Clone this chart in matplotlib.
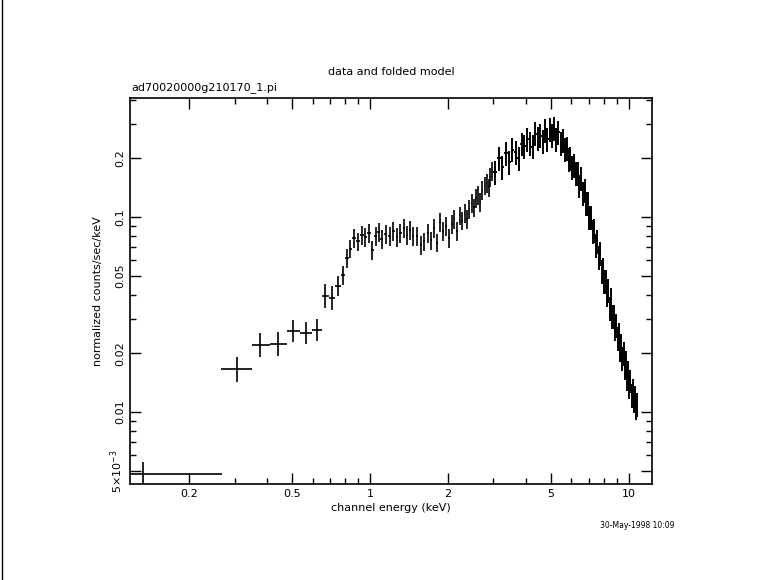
import matplotlib
matplotlib.use("Agg")
import matplotlib.pyplot as plt
import numpy as np
from matplotlib.ticker import FixedLocator, NullFormatter, LogLocator

# low-energy binned points
e_low = [0.133, 0.307, 0.376, 0.441, 0.505, 0.566, 0.624, 0.670, 0.713, 0.752, 0.787, 0.815, 0.837]
e_low_lo = [0.118, 0.266, 0.350, 0.410, 0.476, 0.536, 0.595, 0.652, 0.692, 0.732, 0.770, 0.800, 0.826]
e_low_hi = [0.268, 0.350, 0.410, 0.476, 0.536, 0.595, 0.652, 0.692, 0.732, 0.770, 0.800, 0.826, 0.850]
y_low = [0.00481, 0.0166, 0.0221, 0.0223, 0.0260, 0.0254, 0.0263, 0.0394, 0.0385, 0.0443, 0.0504, 0.0616, 0.0685]
y_low_rel = [0.16, 0.16, 0.15, 0.15, 0.14, 0.14, 0.14, 0.15, 0.15, 0.13, 0.12, 0.12, 0.11]

e_mid = [0.87, 0.90, 0.93, 0.96, 0.99, 1.02, 1.05, 1.08, 1.11, 1.15, 1.19, 1.23, 1.27, 1.31, 1.35, 1.39, 1.43, 1.47,
         1.52, 1.57, 1.62, 1.67, 1.72, 1.77, 1.82, 1.87, 1.92, 1.97, 2.02,
         2.07, 2.12, 2.17, 2.22, 2.27, 2.32, 2.37, 2.42, 2.47, 2.52, 2.57, 2.62, 2.67, 2.72, 2.77, 2.82, 2.87, 2.92, 2.97]
y_mid = [0.078, 0.075, 0.081, 0.079, 0.083, 0.068, 0.080, 0.084, 0.077, 0.082, 0.080, 0.085, 0.079, 0.083, 0.088, 0.081, 0.086, 0.080,
         0.080, 0.072, 0.075, 0.083, 0.076, 0.088, 0.074, 0.094, 0.085, 0.090, 0.078,
         0.092, 0.098, 0.085, 0.102, 0.096, 0.105, 0.098, 0.110, 0.118, 0.112, 0.125, 0.130, 0.120, 0.138, 0.145, 0.150, 0.142, 0.160, 0.172]

e_high = [3.05, 3.15, 3.25, 3.35, 3.45, 3.55, 3.65, 3.75, 3.85, 3.95,
          4.05, 4.15, 4.25, 4.35, 4.45, 4.55, 4.65, 4.75, 4.85, 4.95,
          5.05, 5.15, 5.25, 5.35, 5.45, 5.55, 5.65, 5.75, 5.85, 5.95,
          6.05, 6.15, 6.25, 6.35, 6.45, 6.55, 6.65, 6.75, 6.85, 6.95,
          7.05, 7.15, 7.25, 7.35, 7.45, 7.55, 7.65, 7.75, 7.85, 7.95,
          8.05, 8.15, 8.25, 8.35, 8.45, 8.55, 8.65, 8.75, 8.85, 8.95,
          9.05, 9.15, 9.25, 9.35, 9.45, 9.55, 9.65, 9.75, 9.85, 9.95,
          10.05, 10.15, 10.25, 10.35, 10.45, 10.55, 10.65, 10.75]
y_high = [0.170, 0.200, 0.180, 0.212, 0.192, 0.222, 0.215, 0.200, 0.238, 0.232,
          0.252, 0.240, 0.230, 0.268, 0.255, 0.262, 0.245, 0.278, 0.250, 0.282,
          0.262, 0.285, 0.250, 0.272, 0.240, 0.248, 0.222, 0.225, 0.198, 0.200,
          0.180, 0.185, 0.168, 0.168, 0.145, 0.158, 0.132, 0.138, 0.118, 0.118,
          0.100, 0.100, 0.085, 0.086, 0.072, 0.075, 0.062, 0.065, 0.053, 0.054,
          0.047, 0.047, 0.040, 0.042, 0.034, 0.038, 0.031, 0.031, 0.027, 0.028,
          0.024, 0.025, 0.021, 0.022, 0.019, 0.020, 0.017, 0.018, 0.015, 0.016,
          0.0135, 0.0145, 0.0122, 0.0130, 0.0115, 0.0120, 0.0106, 0.0110]
mid_rel = 0.11
high_rel = 0.14

xticks = [0.2, 0.5, 1, 2, 5, 10]
xticklabels = ["0.2", "0.5", "1", "2", "5", "10"]
yticks = [0.005, 0.01, 0.02, 0.05, 0.1, 0.2]
yticklabels = [r"5$\times$10$^{-3}$", "0.01", "0.02", "0.05", "0.1", "0.2"]

fig = plt.figure(figsize=(7.81, 5.80), dpi=100)
ax = fig.add_axes([130/781, 96/580, 522/781, 386/580])
ax.set_xscale("log"); ax.set_yscale("log")
ax.set_xlim(0.118, 12.3); ax.set_ylim(0.00428, 0.408)

el = np.array(e_low); yl = np.array(y_low); rl = np.array(y_low_rel)
ax.errorbar(el, yl, xerr=[el - np.array(e_low_lo), np.array(e_low_hi) - el],
            yerr=[yl - yl/(1+rl), yl*rl], fmt="none", ecolor="black", elinewidth=1.2, capsize=0)
em = np.array(e_mid); ym = np.array(y_mid)
ax.errorbar(em, ym, xerr=0.015, yerr=ym*mid_rel, fmt="none", ecolor="black", elinewidth=1.2, capsize=0)
eh = np.array(e_high); yh = np.array(y_high)
ax.errorbar(eh, yh, xerr=0.05, yerr=yh*high_rel, fmt="none", ecolor="black", elinewidth=1.4, capsize=0)

ax.xaxis.set_major_locator(FixedLocator(xticks))
ax.set_xticklabels(xticklabels)
ax.xaxis.set_minor_locator(LogLocator(base=10, subs=np.arange(1, 10)))
ax.xaxis.set_minor_formatter(NullFormatter())
ax.yaxis.set_major_locator(FixedLocator(yticks))
ax.set_yticklabels(yticklabels, rotation=90, va="center")
ax.yaxis.set_minor_locator(LogLocator(base=10, subs=np.arange(1, 10)))
ax.yaxis.set_minor_formatter(NullFormatter())
ax.tick_params(which="both", direction="in", top=True, right=True, labelsize=8, width=1)
ax.tick_params(which="major", length=8)
ax.tick_params(which="minor", length=4)
for s in ax.spines.values():
    s.set_linewidth(1.2)

ax.set_xlabel("channel energy (keV)", fontsize=8, labelpad=3)
ax.set_ylabel("normalized counts/sec/keV", fontsize=8, labelpad=4)
fig.text(391/781, 1 - 72/580, "data and folded model", ha="center", va="center", fontsize=8)
fig.text(131/781, 1 - 88/580, "ad70020000g210170_1.pi", ha="left", va="center", fontsize=8)
fig.text(675/781, 1 - 525/580, "30-May-1998 10:09", ha="right", va="center", fontsize=5.5)
fig.add_artist(plt.Line2D([1.5/781, 1.5/781], [0, 1], color="black", lw=1))

fig.savefig("out.png", dpi=100)
